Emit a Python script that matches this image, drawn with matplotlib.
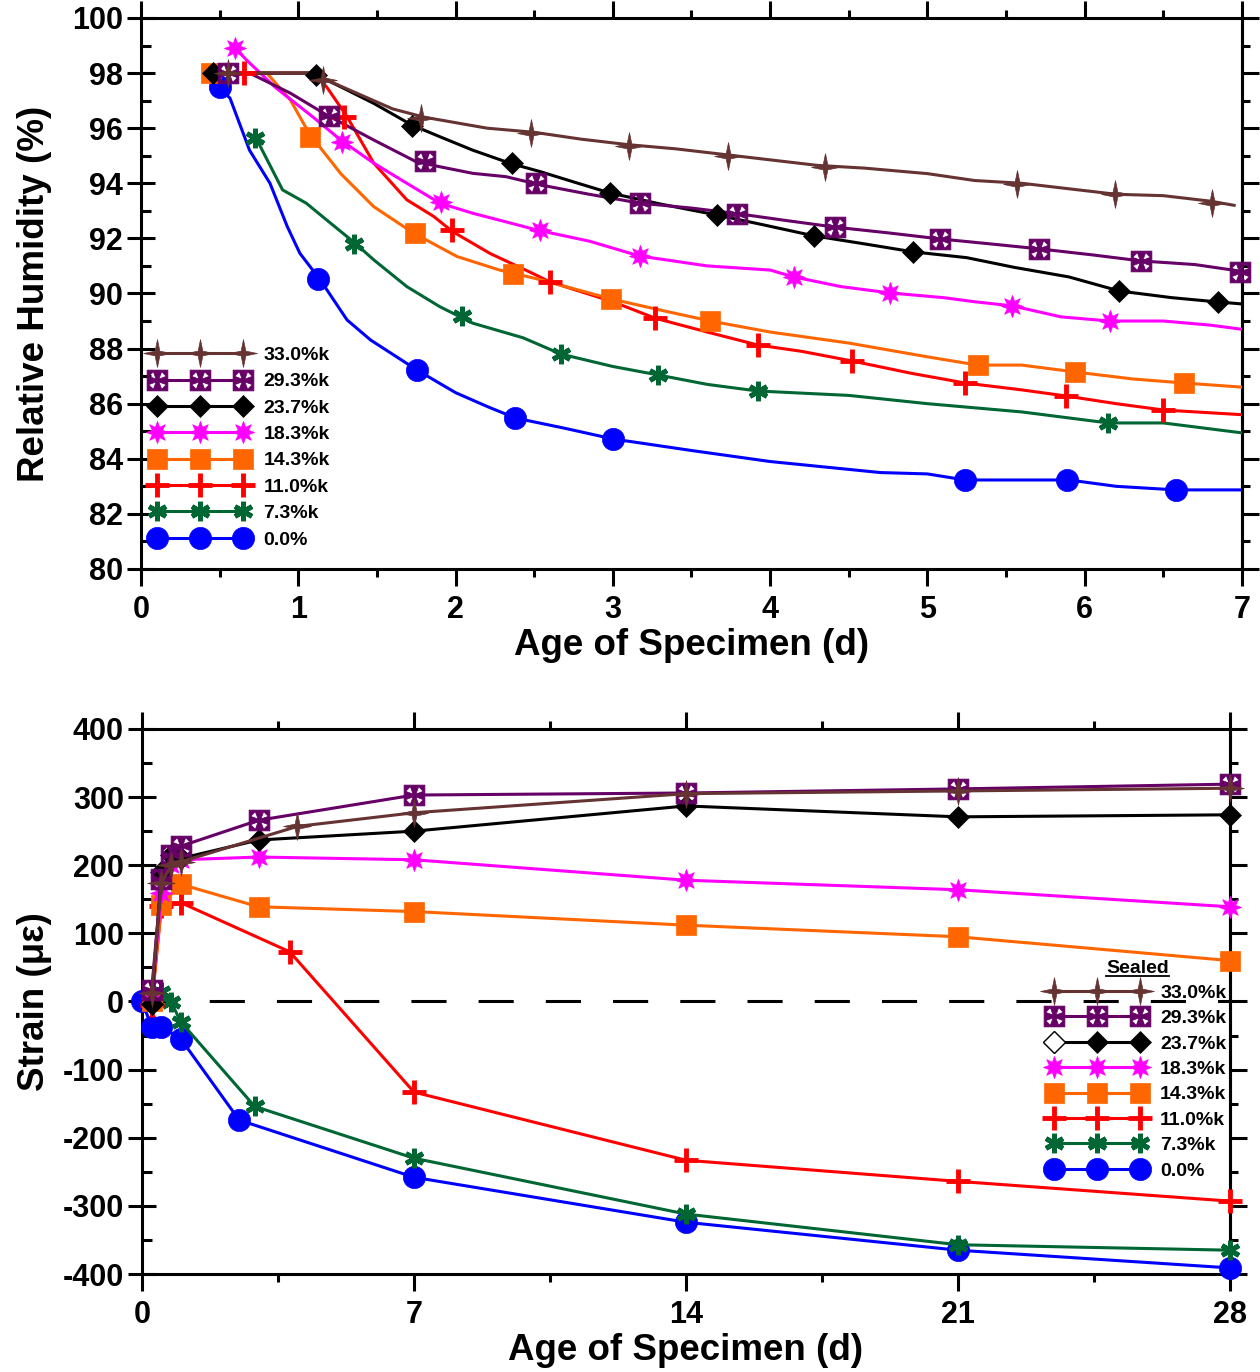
import numpy as np
import matplotlib
matplotlib.use('Agg')
import matplotlib.pyplot as plt
from matplotlib.lines import Line2D
from matplotlib.path import Path
from matplotlib.ticker import MultipleLocator
from matplotlib.legend_handler import HandlerTuple, HandlerLine2D

plt.rcParams['font.family'] = ['Liberation Sans', 'DejaVu Sans']
plt.rcParams['font.weight'] = 'bold'
plt.rcParams['axes.labelweight'] = 'bold'
plt.rcParams['axes.unicode_minus'] = False

labels = ['33.0%k', '29.3%k', '23.7%k', '18.3%k', '14.3%k', '11.0%k', '7.3%k', '0.0%']
colors = ['#663333', '#660066', '#000000', '#ff00ff', '#ff6600', '#ff0000',
          '#006633', '#0000ff']

# ---- relative humidity (top), continuous record + marker points ----
rh_line_x = [
    [0.50, 1.10, 1.20, 1.40, 1.60, 1.80, 2.00, 2.20, 2.50, 2.80, 3.10, 3.40, 3.70,
     4.00, 4.30, 4.60, 5.00, 5.30, 5.60, 5.90, 6.20, 6.50, 6.80, 6.95],
    [0.50, 0.69, 0.95, 1.18, 1.48, 1.75, 1.90, 2.11, 2.32, 2.54, 2.85, 3.17, 3.50,
     3.80, 4.10, 4.41, 4.75, 5.08, 5.40, 5.71, 6.05, 6.36, 6.70, 7.00],
    [0.46, 1.09, 1.27, 1.48, 1.72, 1.90, 2.11, 2.35, 2.54, 2.75, 2.98, 3.30, 3.66,
     3.95, 4.28, 4.60, 4.91, 5.25, 5.55, 5.90, 6.22, 6.55, 6.85, 7.00],
    [0.60, 0.67, 0.85, 1.09, 1.27, 1.48, 1.69, 1.90, 2.11, 2.32, 2.52, 2.85, 3.17,
     3.60, 4.00, 4.15, 4.45, 4.76, 5.10, 5.30, 5.54, 5.85, 6.16, 6.50, 6.80, 7.00],
    [0.44, 0.80, 0.95, 1.07, 1.27, 1.48, 1.73, 2.01, 2.28, 2.54, 2.99, 3.30, 3.62,
     4.00, 4.50, 5.00, 5.32, 5.60, 5.94, 6.30, 6.63, 7.00],
    [0.65, 1.09, 1.18, 1.31, 1.48, 1.69, 1.86, 1.98, 2.22, 2.49, 2.60, 3.00, 3.27,
     3.60, 3.92, 4.20, 4.52, 4.90, 5.24, 5.60, 5.88, 6.20, 6.50, 7.00],
    [0.735, 0.90, 1.05, 1.18, 1.36, 1.48, 1.69, 1.90, 2.11, 2.43, 2.67, 3.00, 3.29,
     3.60, 3.92, 4.50, 5.00, 5.60, 6.15, 6.50, 7.00],
    [0.50, 0.566, 0.69, 0.82, 0.93, 1.01, 1.14, 1.31, 1.46, 1.755, 2.00, 2.20, 2.38,
     2.70, 3.00, 3.50, 4.00, 4.70, 5.00, 5.24, 5.90, 6.20, 6.58, 7.00],
]
rh_line_y = [
    [98.0, 98.0, 97.7, 97.2, 96.7, 96.4, 96.2, 96.0, 95.85, 95.6, 95.4, 95.25, 95.05,
     94.85, 94.65, 94.55, 94.35, 94.1, 94.0, 93.8, 93.6, 93.55, 93.35, 93.2],
    [98.0, 98.0, 97.27, 96.48, 95.57, 94.78, 94.6, 94.36, 94.24, 93.94, 93.6, 93.28, 93.1,
     92.89, 92.65, 92.41, 92.2, 91.98, 91.8, 91.62, 91.4, 91.18, 91.05, 90.8],
    [98.0, 98.0, 97.5, 96.9, 96.12, 95.69, 95.2, 94.72, 94.42, 94.05, 93.65, 93.25, 92.85,
     92.5, 92.09, 91.8, 91.51, 91.3, 90.95, 90.6, 90.09, 89.85, 89.69, 89.62],
    [98.9, 98.48, 97.5, 96.42, 95.57, 94.73, 94.0, 93.28, 92.91, 92.6, 92.3, 91.9, 91.36,
     91.0, 90.85, 90.6, 90.25, 90.02, 89.85, 89.7, 89.55, 89.15, 89.0, 89.0, 88.85, 88.7],
    [98.0, 98.0, 97.02, 95.8, 94.35, 93.15, 92.2, 91.34, 90.85, 90.5, 89.8, 89.4, 89.0,
     88.6, 88.2, 87.7, 87.4, 87.4, 87.15, 86.9, 86.75, 86.6],
    [98.0, 98.0, 97.5, 96.42, 94.73, 93.4, 92.8, 92.25, 91.45, 90.73, 90.42, 89.7, 89.1,
     88.6, 88.13, 87.9, 87.55, 87.1, 86.75, 86.5, 86.28, 86.0, 85.77, 85.6],
    [95.6, 93.76, 93.28, 92.67, 91.83, 91.22, 90.25, 89.52, 88.92, 88.39, 87.8, 87.35, 87.04,
     86.7, 86.46, 86.3, 86.0, 85.7, 85.3, 85.3, 84.94],
    [97.45, 97.09, 95.2, 94.0, 92.43, 91.46, 90.49, 89.04, 88.31, 87.22, 86.4, 85.9, 85.48,
     85.1, 84.72, 84.3, 83.9, 83.5, 83.45, 83.23, 83.23, 83.0, 82.87, 82.87],
]
rh_mark_x = [
    [0.55, 1.16, 1.78, 2.48, 3.10, 3.73, 4.35, 5.57, 6.19, 6.81],
    [0.55, 1.195, 1.805, 2.51, 3.17, 3.79, 4.41, 5.08, 5.71, 6.36, 6.99],
    [0.46, 1.11, 1.72, 2.36, 2.98, 3.66, 4.28, 4.91, 6.22, 6.85],
    [0.60, 1.28, 1.91, 2.54, 3.17, 4.15, 4.76, 5.54, 6.16],
    [0.445, 1.074, 1.74, 2.365, 2.99, 3.62, 5.32, 5.94, 6.63],
    [0.655, 1.29, 1.98, 2.60, 3.27, 3.92, 4.52, 5.24, 5.88, 6.50],
    [0.725, 1.354, 2.04, 2.67, 3.29, 3.92, 6.15],
    [0.502, 1.125, 1.755, 2.38, 3.00, 5.24, 5.89, 6.58],
]
rh_mark_y = [
    [98.0, 97.75, 96.37, 95.83, 95.35, 94.99, 94.59, 93.97, 93.61, 93.29],
    [98.0, 96.44, 94.81, 94.01, 93.28, 92.89, 92.41, 91.98, 91.62, 91.18, 90.78],
    [98.0, 97.93, 96.08, 94.74, 93.65, 92.85, 92.09, 91.51, 90.09, 89.69],
    [98.9, 95.5, 93.32, 92.3, 91.36, 90.6, 90.02, 89.55, 89.0],
    [98.0, 95.68, 92.2, 90.71, 89.8, 89.0, 87.4, 87.15, 86.75],
    [98.0, 96.4, 92.3, 90.42, 89.1, 88.13, 87.55, 86.75, 86.28, 85.77],
    [95.64, 91.8, 89.18, 87.8, 87.04, 86.46, 85.3],
    [97.5, 90.53, 87.22, 85.48, 84.72, 83.23, 83.23, 82.87],
]

# ---- sealed strain (bottom) ----
st_x = [
    [0.25, 0.5, 0.75, 1.0, 4.0, 7.0, 14.0, 21.0, 28.0],
    [0.25, 0.5, 0.75, 1.0, 3.0, 7.0, 14.0, 21.0, 28.0],
    [0.25, 0.5, 0.75, 1.0, 3.0, 7.0, 14.0, 21.0, 28.0],
    [0.25, 0.5, 0.75, 1.0, 3.0, 7.0, 14.0, 21.0, 28.0],
    [0.25, 0.5, 1.0, 3.0, 7.0, 14.0, 21.0, 28.0],
    [0.25, 0.5, 1.0, 3.8, 7.0, 14.0, 21.0, 28.0],
    [0.25, 0.5, 0.75, 1.0, 2.9, 7.0, 14.0, 21.0, 28.0],
    [0.0, 0.25, 0.5, 1.0, 2.5, 7.0, 14.0, 21.0, 28.0],
]
st_y = [
    [12, 174, 200, 205, 257, 277, 305, 309, 313],
    [17, 180, 215, 228, 266, 303, 306, 312, 319],
    [-3, 190, 215, 210, 237, 250, 287, 271, 274],
    [5, 159, 200, 208, 212, 208, 178, 164, 139],
    [0, 142, 172, 139, 132, 112, 95, 60],
    [-5, 140, 145, 73, -133, -233, -264, -293],
    [0, 14, -1, -30, -154, -230, -312, -357, -365],
    [0, -37, -37, -55, -174, -258, -324, -365, -391],
]


def star4_marker():
    verts = []
    for k in range(4):
        a = np.pi / 2 - k * np.pi / 2
        verts.append((np.cos(a), np.sin(a)))
        b = a - np.pi / 4
        verts.append((0.24 * np.cos(b), 0.24 * np.sin(b)))
    verts.append(verts[0])
    codes = [Path.MOVETO] + [Path.LINETO] * 7 + [Path.CLOSEPOLY]
    return Path(verts, codes)


def maltese_marker():
    # filled square with four white wedges cut along the diagonals
    verts = [(-1, -1), (1, -1), (1, 1), (-1, 1), (-1, -1)]
    codes = [Path.MOVETO, Path.LINETO, Path.LINETO, Path.LINETO, Path.CLOSEPOLY]
    for sx, sy in [(1, 1), (-1, 1), (-1, -1), (1, -1)]:
        tri = [(0.14 * sx, 0.14 * sy), (0.40 * sx, 0.84 * sy), (0.84 * sx, 0.40 * sy)]
        (x0, y0), (x1, y1), (x2, y2) = tri
        if (x1 - x0) * (y2 - y0) - (y1 - y0) * (x2 - x0) > 0:
            tri = tri[::-1]
        verts += tri + [tri[0]]
        codes += [Path.MOVETO, Path.LINETO, Path.LINETO, Path.CLOSEPOLY]
    return Path(verts, codes)


class FirstMarkerOnly(HandlerLine2D):
    def create_artists(self, *args, **kwargs):
        arts = super().create_artists(*args, **kwargs)
        for a in arts:
            a.set_markevery([0])
        return arts


markers = [star4_marker(), maltese_marker(), 'D', (8, 1, 0), 's', '+', (6, 2, 0), 'o']
msizes = [20, 15, 11, 16, 15, 17, 14, 16]
mews = [0.5, 0.5, 0.5, 0.5, 0.5, 3.5, 3.5, 0.5]
LW = 2.2


def style(i):
    return dict(color=colors[i], marker=markers[i], markersize=msizes[i],
                markerfacecolor=colors[i], markeredgecolor=colors[i],
                markeredgewidth=mews[i])


fig = plt.figure(figsize=(12.6, 13.72), dpi=100)
ax1 = fig.add_axes([0.1119, 0.5853, 0.8738, 0.4016])
ax2 = fig.add_axes([0.1127, 0.0714, 0.8635, 0.3973])

# draw 0.0% first so the high-humidity series sit on top
for i in range(len(labels) - 1, -1, -1):
    ax1.plot(rh_line_x[i], rh_line_y[i], color=colors[i], lw=LW, zorder=3)
    ax1.plot(rh_mark_x[i], rh_mark_y[i], ls='none', clip_on=False, zorder=4, **style(i))

ax2.axhline(0, color='k', lw=LW, ls=(0, (11.5, 10.5)), zorder=1)
for i in range(len(labels) - 1, -1, -1):
    ax2.plot(st_x[i], st_y[i], lw=LW, clip_on=False, zorder=3, **style(i))

handles = [Line2D([], [], lw=LW, **style(i)) for i in range(len(labels))]

ax1.set_xlim(0, 7)
ax1.set_ylim(80, 100)
ax1.xaxis.set_major_locator(MultipleLocator(1))
ax1.xaxis.set_minor_locator(MultipleLocator(0.5))
ax1.yaxis.set_major_locator(MultipleLocator(2))
ax1.yaxis.set_minor_locator(MultipleLocator(1))
ax1.set_xlabel('Age of Specimen (d)', fontsize=26.5, labelpad=2)
ax1.set_ylabel('Relative Humidity (%)', fontsize=26.5, labelpad=14)

ax2.set_xlim(0, 28)
ax2.set_ylim(-400, 400)
ax2.xaxis.set_major_locator(MultipleLocator(7))
ax2.xaxis.set_minor_locator(MultipleLocator(3.5))
ax2.yaxis.set_major_locator(MultipleLocator(100))
ax2.yaxis.set_minor_locator(MultipleLocator(50))
ax2.set_xlabel('Age of Specimen (d)', fontsize=26.5, labelpad=2)
ax2.set_ylabel('Strain (\u03bc\u03b5)', fontsize=26.5, labelpad=8)

for ax, (maj, mnr) in [(ax1, (2, 1)), (ax2, (100, 50))]:
    for sp in ax.spines.values():
        sp.set_linewidth(LW)
    ax.tick_params(axis='x', which='major', direction='out', length=12, width=LW,
                   top=True, labelsize=22, pad=7)
    ax.tick_params(axis='x', which='minor', direction='out', length=6, width=LW, top=True)
    ax.tick_params(axis='y', which='major', direction='inout', length=20, width=LW,
                   labelsize=22, pad=3)
    ax.tick_params(axis='y', which='minor', direction='in', length=7, width=LW)
    r = ax.secondary_yaxis('right')
    r.yaxis.set_major_locator(MultipleLocator(maj))
    r.yaxis.set_minor_locator(MultipleLocator(mnr))
    r.spines['right'].set_linewidth(LW)
    r.tick_params(which='major', direction='out', length=12, width=LW, labelright=False)
    r.tick_params(which='minor', direction='out', length=6, width=LW)

leg_kw = dict(fontsize=14, numpoints=3, handlelength=5.0, handletextpad=0.75,
              frameon=False, borderpad=0, borderaxespad=0)
ax1.legend(handles, labels, loc='upper left', bbox_to_anchor=(0.0095, 0.404),
           labelspacing=0.45, **leg_kw)

# 23.7%k handle in the sealed legend has its first marker open
open_first = Line2D([], [], ls='none', marker='D', markersize=msizes[2],
                    markerfacecolor='white', markeredgecolor='k', markeredgewidth=1.0)
handles2 = list(handles)
handles2[2] = (handles[2], open_first)
leg2 = ax2.legend(handles2, labels, loc='upper left', bbox_to_anchor=(0.833, 0.577),
                  title='Sealed', title_fontproperties={'size': 14, 'weight': 'bold'},
                  labelspacing=0.40,
                  handler_map={tuple: HandlerTuple(ndivide=1),
                               open_first: FirstMarkerOnly()}, **leg_kw)

fig.canvas.draw()
bb = leg2.get_title().get_window_extent()
inv = fig.transFigure.inverted()
(x0, y0), (x1, _) = inv.transform([(bb.x0, bb.y0 + 1), (bb.x1, bb.y0 + 1)])
fig.add_artist(Line2D([x0, x1], [y0, y0], color='k', lw=1.3))

fig.savefig('out.png', dpi=100)
plt.close(fig)
